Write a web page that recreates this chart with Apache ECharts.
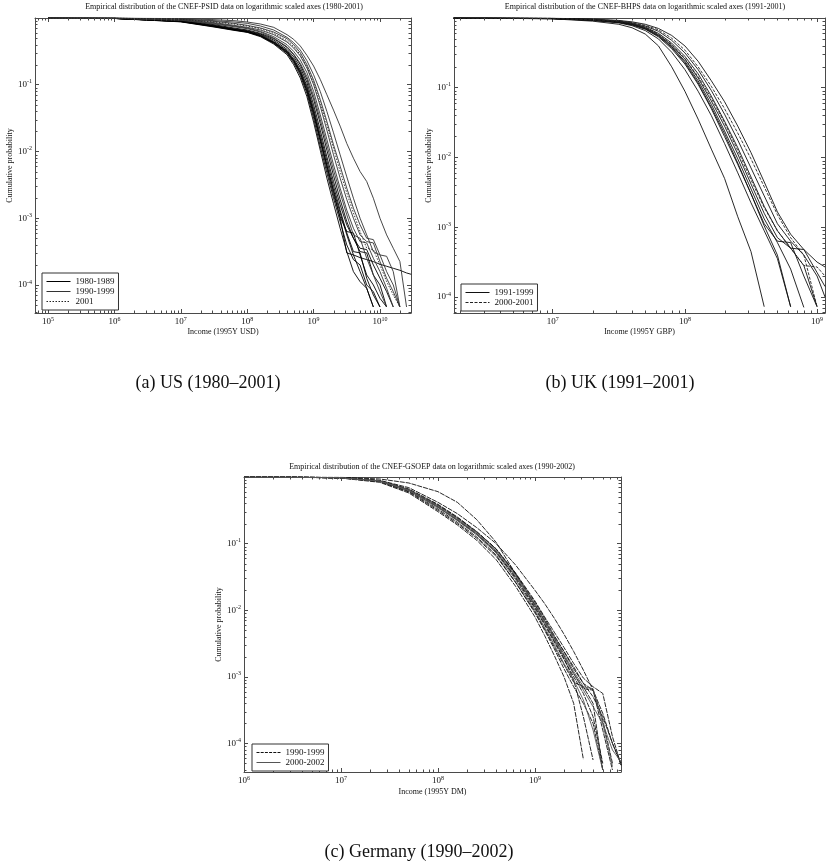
<!DOCTYPE html>
<html><head><meta charset="utf-8">
<script src="https://cdn.jsdelivr.net/npm/echarts@6/dist/echarts.min.js"></script>
<style>html,body{margin:0;padding:0;background:#fff}#c{width:828px;height:865px}</style>
</head><body><div id="c"></div>
<script>
const FONT = 'Liberation Serif';

// ---------- Panel (a) US: income grid as log10(income), curves as log10(cumulative probability)
const usIncomeExp = [5, 6, 7, 7.5, 7.8, 8.0, 8.2, 8.4, 8.6, 8.7, 8.8, 8.9, 9.0, 9.1, 9.2, 9.3, 9.4, 9.5, 9.6, 9.7, 9.8, 9.9, 10.0, 10.1, 10.2, 10.3, 10.4, 10.47];
const us1980s = [
  [-0.001,-0.006,-0.05,-0.12,-0.17,-0.20,-0.26,-0.36,-0.50,-0.63,-0.80,-1.05,-1.40,-1.80,-2.20,-2.58,-2.92,-3.25,-3.55,-3.80,-4.05,-4.33],
  [-0.001,-0.007,-0.055,-0.13,-0.18,-0.21,-0.27,-0.38,-0.53,-0.67,-0.86,-1.13,-1.50,-1.92,-2.32,-2.70,-3.05,-3.40,-3.62,-3.70,-4.00,-4.10,-4.33],
  [-0.001,-0.005,-0.045,-0.11,-0.16,-0.19,-0.24,-0.33,-0.47,-0.58,-0.74,-0.97,-1.30,-1.68,-2.08,-2.45,-2.80,-3.10,-3.30,-3.50,-3.52,-3.85,-4.00,-4.33],
  [-0.001,-0.006,-0.05,-0.125,-0.175,-0.205,-0.265,-0.37,-0.52,-0.65,-0.83,-1.10,-1.45,-1.85,-2.26,-2.65,-2.98,-3.20,-3.22,-3.55,-3.85,-4.00,-4.20,-4.33],
  [-0.001,-0.005,-0.04,-0.10,-0.15,-0.18,-0.23,-0.31,-0.44,-0.55,-0.70,-0.92,-1.22,-1.58,-1.98,-2.36,-2.72,-3.05,-3.30,-3.45,-3.47,-3.70,-3.90,-4.10,-4.33],
  [-0.001,-0.006,-0.052,-0.125,-0.175,-0.21,-0.27,-0.37,-0.51,-0.64,-0.82,-1.08,-1.42,-1.82,-2.22,-2.60,-3.00,-3.52,-3.55,-3.59,-3.62,-3.65,-3.69,-3.72,-3.75,-3.78,-3.82,-3.84],
  [-0.001,-0.006,-0.05,-0.12,-0.17,-0.20,-0.25,-0.35,-0.49,-0.61,-0.78,-1.02,-1.36,-1.75,-2.14,-2.52,-2.88,-3.22,-3.50,-3.52,-3.90,-4.15,-4.33],
  [-0.001,-0.007,-0.058,-0.135,-0.185,-0.215,-0.28,-0.39,-0.55,-0.70,-0.90,-1.18,-1.56,-1.98,-2.40,-2.78,-3.15,-3.50,-3.80,-3.95,-4.05,-4.33]
];
const us1990s = [
  [-0.0005,-0.003,-0.03,-0.08,-0.12,-0.15,-0.20,-0.28,-0.40,-0.50,-0.63,-0.82,-1.10,-1.45,-1.82,-2.20,-2.55,-2.88,-3.15,-3.35,-3.37,-3.60,-3.80,-4.05,-4.33],
  [-0.0005,-0.003,-0.025,-0.07,-0.11,-0.14,-0.18,-0.25,-0.36,-0.45,-0.57,-0.75,-1.00,-1.32,-1.68,-2.05,-2.40,-2.72,-3.00,-3.25,-3.35,-3.37,-3.65,-3.90,-4.10,-4.33],
  [-0.0003,-0.002,-0.02,-0.05,-0.08,-0.11,-0.15,-0.21,-0.31,-0.40,-0.52,-0.70,-0.93,-1.22,-1.55,-1.90,-2.22,-2.55,-2.85,-3.10,-3.30,-3.32,-3.55,-3.80,-4.00,-4.33],
  [-0.0002,-0.001,-0.01,-0.025,-0.04,-0.06,-0.09,-0.14,-0.25,-0.32,-0.42,-0.56,-0.72,-0.92,-1.15,-1.38,-1.62,-1.88,-2.10,-2.30,-2.45,-2.70,-3.00,-3.25,-3.45,-3.65,-4.33],
  [-0.0003,-0.002,-0.015,-0.04,-0.06,-0.08,-0.12,-0.18,-0.29,-0.37,-0.48,-0.64,-0.85,-1.10,-1.40,-1.72,-2.05,-2.38,-2.70,-3.00,-3.25,-3.50,-3.55,-3.57,-3.80,-4.33],
  [-0.0005,-0.004,-0.035,-0.09,-0.13,-0.16,-0.21,-0.30,-0.43,-0.54,-0.68,-0.88,-1.17,-1.52,-1.90,-2.28,-2.62,-2.95,-3.25,-3.30,-3.60,-3.85,-4.10,-4.33]
];
const us2001 = [
  [-0.0003,-0.002,-0.02,-0.06,-0.09,-0.12,-0.16,-0.23,-0.34,-0.43,-0.55,-0.73,-0.97,-1.27,-1.60,-1.95,-2.30,-2.62,-2.92,-3.20,-3.45,-3.47,-3.70,-3.95,-4.15,-4.33]
];

// ---------- Panel (b) UK
const ukIncomeExp = [6.25, 6.5, 7.0, 7.3, 7.5, 7.6, 7.7, 7.8, 7.9, 8.0, 8.1, 8.2, 8.3, 8.4, 8.5, 8.6, 8.7, 8.8, 8.9, 9.0, 9.06];
const uk1991_1999 = [
  [-0.0002,-0.001,-0.008,-0.03,-0.06,-0.09,-0.15,-0.25,-0.41,-0.62,-0.90,-1.24,-1.62,-2.02,-2.45,-2.88,-3.22,-3.60,-4.15],
  [-0.0003,-0.002,-0.012,-0.045,-0.09,-0.14,-0.23,-0.40,-0.70,-1.05,-1.45,-1.88,-2.30,-2.85,-3.35,-4.14],
  [-0.0001,-0.0005,-0.004,-0.015,-0.035,-0.055,-0.09,-0.15,-0.25,-0.40,-0.62,-0.90,-1.20,-1.55,-1.93,-2.35,-2.78,-3.10,-3.32,-3.50,-3.57],
  [-0.0002,-0.001,-0.007,-0.025,-0.05,-0.08,-0.13,-0.22,-0.36,-0.55,-0.80,-1.12,-1.48,-1.86,-2.28,-2.70,-3.05,-3.30,-3.55,-4.14],
  [-0.0002,-0.001,-0.009,-0.032,-0.065,-0.10,-0.16,-0.27,-0.44,-0.66,-0.95,-1.30,-1.70,-2.10,-2.52,-2.95,-3.20,-3.22,-3.70,-4.14],
  [-0.0002,-0.001,-0.008,-0.03,-0.06,-0.095,-0.155,-0.26,-0.42,-0.64,-0.93,-1.28,-1.66,-2.08,-2.52,-2.98,-3.40,-4.14],
  [-0.0002,-0.001,-0.007,-0.028,-0.055,-0.085,-0.14,-0.24,-0.39,-0.59,-0.86,-1.19,-1.55,-1.95,-2.38,-2.80,-3.15,-3.30,-3.32,-3.65,-3.85],
  [-0.0003,-0.0015,-0.01,-0.035,-0.07,-0.11,-0.18,-0.30,-0.49,-0.74,-1.05,-1.40,-1.80,-2.22,-2.65,-3.05,-3.45,-4.14],
  [-0.0002,-0.001,-0.006,-0.022,-0.045,-0.07,-0.115,-0.19,-0.32,-0.50,-0.74,-1.04,-1.38,-1.75,-2.15,-2.55,-2.95,-3.20,-3.40,-3.70,-4.00]
];
const uk2000_2001 = [
  [-0.0002,-0.001,-0.007,-0.026,-0.052,-0.082,-0.135,-0.23,-0.38,-0.58,-0.84,-1.15,-1.50,-1.90,-2.32,-2.72,-3.05,-3.30,-3.55,-3.57,-3.70],
  [-0.0001,-0.0007,-0.005,-0.02,-0.04,-0.065,-0.105,-0.17,-0.29,-0.46,-0.70,-0.98,-1.30,-1.65,-2.02,-2.42,-2.82,-3.15,-3.40,-4.14]
];

// ---------- Panel (c) Germany
const deIncomeExp = [6.0, 6.5, 7.0, 7.4, 7.7, 8.0, 8.2, 8.4, 8.6, 8.8, 9.0, 9.1, 9.2, 9.3, 9.4, 9.5, 9.6, 9.7, 9.8, 9.89];
const de1990_1999 = [
  [0,-0.002,-0.012,-0.06,-0.20,-0.45,-0.64,-0.85,-1.12,-1.52,-1.97,-2.22,-2.48,-2.74,-3.00,-3.25,-3.60,-4.30],
  [0,-0.001,-0.005,-0.03,-0.09,-0.22,-0.38,-0.64,-0.98,-1.45,-1.92,-2.15,-2.40,-2.62,-2.85,-3.10,-3.20,-3.65,-4.30],
  [0,-0.002,-0.010,-0.05,-0.16,-0.38,-0.55,-0.76,-1.00,-1.32,-1.70,-1.90,-2.12,-2.36,-2.62,-2.90,-3.20,-3.55,-4.00,-4.33],
  [0,-0.003,-0.016,-0.08,-0.24,-0.52,-0.72,-0.95,-1.24,-1.64,-2.10,-2.38,-2.68,-3.00,-3.40,-4.24],
  [0,-0.002,-0.013,-0.065,-0.215,-0.48,-0.68,-0.90,-1.17,-1.58,-2.04,-2.30,-2.58,-2.88,-3.15,-3.40,-3.70,-4.40],
  [0,-0.002,-0.011,-0.055,-0.18,-0.41,-0.60,-0.82,-1.08,-1.46,-1.92,-2.16,-2.42,-2.68,-2.95,-3.18,-3.20,-3.80,-4.40],
  [0,-0.002,-0.011,-0.055,-0.19,-0.43,-0.62,-0.83,-1.08,-1.45,-1.88,-2.12,-2.38,-2.62,-2.88,-3.10,-3.30,-3.60,-4.00,-4.30],
  [0,-0.002,-0.014,-0.07,-0.225,-0.50,-0.70,-0.92,-1.19,-1.58,-2.02,-2.28,-2.55,-2.82,-3.08,-3.15,-3.40,-4.40],
  [0,-0.002,-0.012,-0.062,-0.20,-0.45,-0.65,-0.86,-1.13,-1.50,-1.95,-2.20,-2.46,-2.72,-3.05,-3.60,-4.25],
  [0,-0.002,-0.012,-0.058,-0.19,-0.42,-0.61,-0.82,-1.08,-1.44,-1.86,-2.10,-2.33,-2.56,-2.80,-3.02,-3.15,-3.25,-3.90,-4.33]
];
const de2000_2002 = [
  [0,-0.002,-0.012,-0.058,-0.19,-0.43,-0.62,-0.83,-1.09,-1.47,-1.90,-2.15,-2.40,-2.66,-2.92,-3.15,-3.18,-3.70,-4.35],
  [0,-0.002,-0.013,-0.064,-0.205,-0.46,-0.655,-0.87,-1.14,-1.54,-2.00,-2.26,-2.52,-2.80,-3.05,-3.35,-3.80,-4.40],
  [0,-0.002,-0.012,-0.06,-0.20,-0.45,-0.64,-0.85,-1.11,-1.49,-1.93,-2.18,-2.44,-2.70,-2.96,-3.20,-3.45,-3.70,-4.10,-4.28]
];

// ---------- texts
const titles = [
  'Empirical distribution of the CNEF-PSID data on logarithmic scaled axes (1980-2001)',
  'Empirical distribution of the CNEF-BHPS data on logarithmic scaled axes (1991-2001)',
  'Empirical distribution of the CNEF-GSOEP data on logarithmic scaled axes (1990-2002)'
];
const xNames = ['Income (1995Y USD)', 'Income (1995Y GBP)', 'Income (1995Y DM)'];
const yName = 'Cumulative probability';
const captions = ['(a) US (1980–2001)', '(b) UK (1991–2001)', '(c) Germany (1990–2002)'];

// ---------- layout
const panels = [
  {grid:{left:35, top:18, width:376, height:295}, xmin:Math.pow(10,4.804), xmax:Math.pow(10,10.467), ymin:Math.pow(10,-4.42), ymax:1},
  {grid:{left:454, top:18, width:372, height:295}, xmin:Math.pow(10,6.253), xmax:Math.pow(10,9.06), ymin:Math.pow(10,-4.23), ymax:1},
  {grid:{left:244, top:477, width:377, height:295}, xmin:1e6, xmax:Math.pow(10,9.888), ymin:Math.pow(10,-4.43), ymax:1}
];

const AXC = '#4a4a4a';
const RICH = {
  b:{fontFamily:FONT, fontSize:9, color:'#111', lineHeight:12},
  s:{fontFamily:FONT, fontSize:6, color:'#111', lineHeight:7, verticalAlign:'top'}
};
function powLabel(skipZero){
  return function(v){
    const e = Math.log10(v), r = Math.round(e);
    if (Math.abs(e - r) > 1e-6) return '';
    if (skipZero && r === 0) return '';
    return '{b|10}{s|' + r + '}';
  };
}
function xAxis(i, top){
  const p = panels[i];
  return {
    type:'log', gridIndex:i, position: top ? 'top' : 'bottom', min:p.xmin, max:p.xmax,
    axisLine:{show:true, onZero:false, lineStyle:{color:AXC, width:1}},
    axisTick:{show:true, inside:true, length:4, lineStyle:{color:AXC}},
    splitLine:{show:false}, minorTick:{show:false},
    axisLabel: top ? {show:false} : {show:true, margin:3, formatter:powLabel(false), rich:RICH, showMinLabel:true, showMaxLabel:true, hideOverlap:false},
    name: top ? '' : xNames[i], nameLocation:'middle', nameGap: i === 2 ? 16 : 15,
    nameTextStyle:{fontFamily:FONT, fontSize:8, color:'#111'}
  };
}
function yAxis(i, right){
  const p = panels[i];
  return {
    type:'log', gridIndex:i, position: right ? 'right' : 'left', min:p.ymin, max:p.ymax,
    axisLine:{show:true, onZero:false, lineStyle:{color:AXC, width:1}},
    axisTick:{show:true, inside:true, length:4, lineStyle:{color:AXC}},
    splitLine:{show:false}, minorTick:{show:false},
    axisLabel: right ? {show:false} : {show:true, margin:3, formatter:powLabel(true), rich:RICH, hideOverlap:false},
    name: right ? '' : yName, nameLocation:'middle', nameGap:21, nameRotate:90,
    nameTextStyle:{fontFamily:FONT, fontSize:8, color:'#111'}
  };
}

// minor ticks at 2..9 x 10^k, drawn through the axes' own scales
function minorTickData(i){
  const p = panels[i], out = [];
  for (let k = Math.floor(Math.log10(p.xmin)); k <= Math.ceil(Math.log10(p.xmax)); k++)
    for (let m = 2; m <= 9; m++){ const v = m * Math.pow(10, k); if (v > p.xmin && v < p.xmax) out.push([v, p.ymax, 0]); }
  for (let k = Math.floor(Math.log10(p.ymin)); k <= Math.ceil(Math.log10(p.ymax)); k++)
    for (let m = 2; m <= 9; m++){ const v = m * Math.pow(10, k); if (v > p.ymin && v < p.ymax) out.push([p.xmin, v, 1]); }
  return out;
}
function minorRender(params, api){
  const cs = params.coordSys;
  const kind = api.value(2);
  const pt = api.coord([api.value(0), api.value(1)]);
  const L = 2.5, st = {stroke:AXC, lineWidth:1};
  if (kind === 0){
    const x = Math.round(pt[0]) + 0.5;
    return {type:'group', children:[
      {type:'line', shape:{x1:x, y1:cs.y + cs.height, x2:x, y2:cs.y + cs.height - L}, style:st},
      {type:'line', shape:{x1:x, y1:cs.y, x2:x, y2:cs.y + L}, style:st}
    ]};
  }
  const y = Math.round(pt[1]) + 0.5;
  return {type:'group', children:[
    {type:'line', shape:{x1:cs.x, y1:y, x2:cs.x + L, y2:y}, style:st},
    {type:'line', shape:{x1:cs.x + cs.width, y1:y, x2:cs.x + cs.width - L, y2:y}, style:st}
  ]};
}

function curves(i, gridExp, list, name, lineStyle){
  return list.map(c => ({
    type:'line', name, xAxisIndex:i*2, yAxisIndex:i*2, symbol:'none', showSymbol:false,
    silent:true, animation:false, lineStyle, itemStyle:{color:lineStyle.color}, clip:true, z:3,
    data: c.map((e, j) => [Math.pow(10, gridExp[j]), Math.pow(10, e)])
  }));
}

const S1980 = {color:'#000', width:0.9, type:'solid'};
const S1990a = {color:'#333', width:0.9, type:'solid'};
const S2001 = {color:'#222', width:0.9, type:[1.5, 1.5]};
const SUK1 = {color:'#111', width:0.9, type:'solid'};
const SUK2 = {color:'#222', width:0.9, type:[3, 1.5]};
const SDE1 = {color:'#111', width:0.9, type:[5, 1]};
const SDE2 = {color:'#555', width:0.9, type:'solid'};

const series = [].concat(
  curves(0, usIncomeExp, us1980s, '1980-1989', S1980),
  curves(0, usIncomeExp, us1990s, '1990-1999', S1990a),
  curves(0, usIncomeExp, us2001, '2001', S2001),
  curves(1, ukIncomeExp, uk1991_1999, '1991-1999', SUK1),
  curves(1, ukIncomeExp, uk2000_2001, '2000-2001', SUK2),
  curves(2, deIncomeExp, de1990_1999, '1990-1999', SDE1),
  curves(2, deIncomeExp, de2000_2002, '2000-2002', SDE2),
  [0,1,2].map(i => ({type:'custom', name:'minor'+i, xAxisIndex:i*2, yAxisIndex:i*2, renderItem:minorRender,
     data:minorTickData(i), clip:false, silent:true, animation:false, encode:{x:0, y:1}, z:4}))
);

const legendBase = {orient:'vertical', itemWidth:24, itemHeight:9, itemGap:1, padding:[4,4,4,4],
  borderColor:'#333', borderWidth:1, backgroundColor:'#fff', selectedMode:false, z:10,
  itemStyle:{opacity:0, borderWidth:0}, lineStyle:{width:1},
  textStyle:{fontFamily:FONT, fontSize:9, lineHeight:9, color:'#111'}};

const legends = [
  Object.assign({}, legendBase, {left:42, top:273, data:[{name:'1980-1989'},{name:'1990-1999'},{name:'2001'}]}),
  Object.assign({}, legendBase, {left:461, top:284, data:[{name:'1991-1999'},{name:'2000-2001'}]}),
  Object.assign({}, legendBase, {left:252, top:744, data:[{name:'1990-1999', lineStyle:{type:[3,1.2], color:'#111', width:1}},{name:'2000-2002'}]})
];

const txt = (x, y, text, size) => ({type:'text', x, y, silent:true,
  style:{text, font: size + 'px "' + FONT + '"', fill:'#111', textAlign:'center', textVerticalAlign:'middle'}});

const option = {
  backgroundColor:'#fff',
  animation:false,
  grid: panels.map(p => Object.assign({containLabel:false}, p.grid)),
  xAxis: [xAxis(0,false), xAxis(0,true), xAxis(1,false), xAxis(1,true), xAxis(2,false), xAxis(2,true)],
  yAxis: [yAxis(0,false), yAxis(0,true), yAxis(1,false), yAxis(1,true), yAxis(2,false), yAxis(2,true)],
  legend: legends,
  series,
  graphic: [
    txt(224, 7, titles[0], 8),
    txt(645, 7, titles[1], 8),
    txt(432, 467, titles[2], 8),
    txt(208, 383, captions[0], 18),
    txt(620, 383, captions[1], 18),
    txt(419, 852, captions[2], 18)
  ]
};

const chart = echarts.init(document.getElementById('c'), null, {renderer:'canvas'});
chart.setOption(option);
</script>
</body></html>
